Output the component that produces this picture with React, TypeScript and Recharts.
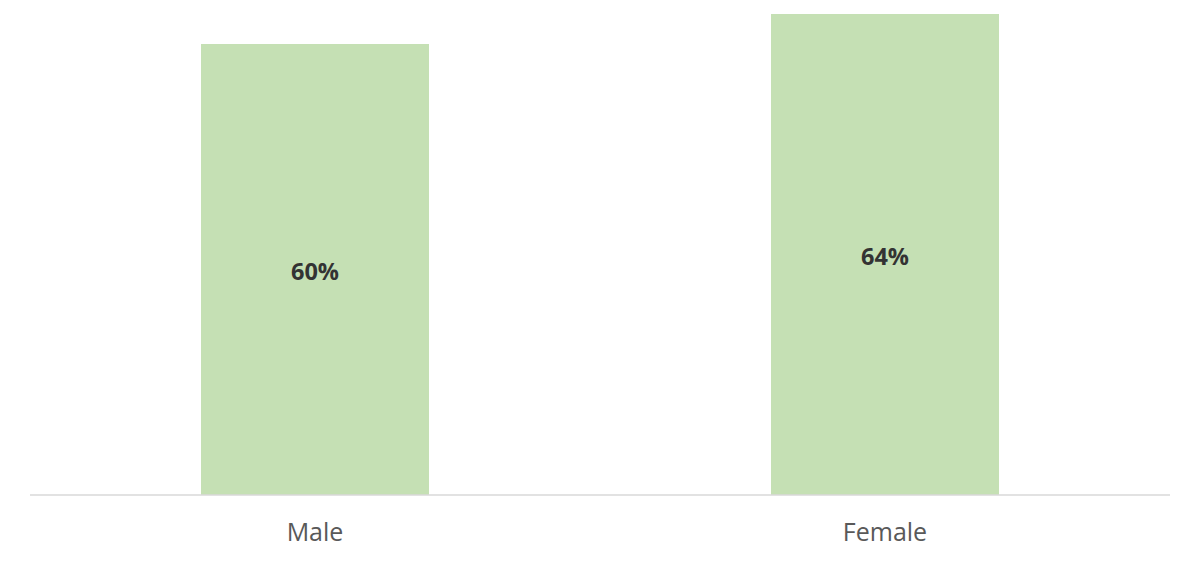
import React from 'react';
import { BarChart, Bar, XAxis, YAxis, LabelList } from 'recharts';

const categories = ['Male', 'Female'];
const values = [60, 64];
const valueLabels = ['60%', '64%'];

const data = categories.map((name, i) => ({ name, value: values[i], label: valueLabels[i] }));

export default function App() {
  return (
    <div style={{ position: 'absolute', left: 0, top: 0, width: 1200, height: 566, background: '#fff' }}>
      <BarChart
        width={1200}
        height={566}
        data={data}
        margin={{ top: 14, right: 30, bottom: 0, left: 30 }}
        barCategoryGap="30%"
      >
        <XAxis
          dataKey="name"
          height={71}
          tickLine={false}
          tickSize={0}
          tickMargin={28}
          axisLine={{ stroke: '#d9d9d9', strokeWidth: 1.5 }}
          tick={{ fill: '#595959', fontSize: 25, fontFamily: 'Open Sans' }}
        />
        <YAxis hide domain={[0, 64]} />
        <Bar dataKey="value" fill="#c5e0b4" isAnimationActive={false}>
          <LabelList
            dataKey="label"
            position="center"
            dy={2}
            style={{ fill: '#333333', fontSize: 23.5, fontWeight: 700, fontFamily: 'Open Sans' }}
          />
        </Bar>
      </BarChart>
    </div>
  );
}
